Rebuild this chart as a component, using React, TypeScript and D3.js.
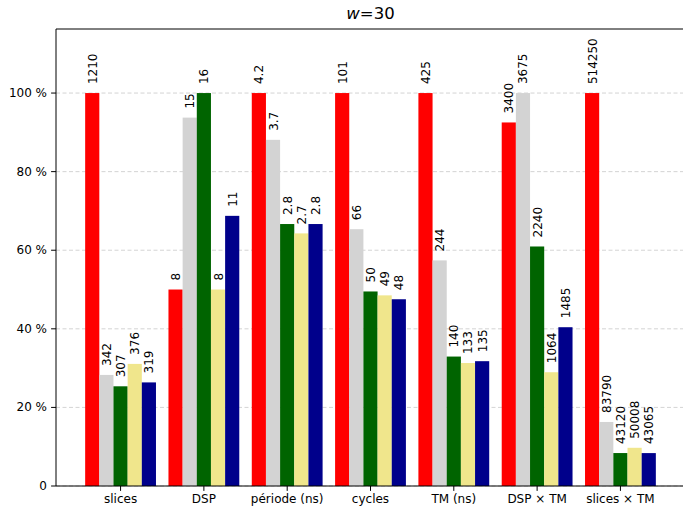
import React from "react";
import * as d3 from "d3";

const categories = ["slices", "DSP", "période (ns)", "cycles", "TM (ns)", "DSP × TM", "slices × TM"];
const seriesColors = ["#ff0000", "#d3d3d3", "#006400", "#f0e68c", "#00008b"];
const series0 = [1210, 8, 4.2, 101, 425, 3400, 514250];
const series1 = [342, 15, 3.7, 66, 244, 3675, 83790];
const series2 = [307, 16, 2.8, 50, 140, 2240, 43120];
const series3 = [376, 8, 2.7, 49, 133, 1064, 50008];
const series4 = [319, 11, 2.8, 48, 135, 1485, 43065];
const seriesList = [series0, series1, series2, series3, series4];
const yTicks = [0, 0.2, 0.4, 0.6, 0.8, 1.0];

const W = 683, H = 510;
const left = 56, right = 685, top = 29, bottom = 486;
const FONT = "DejaVu Sans, sans-serif";

export default function App() {
  const x = d3.scaleLinear().domain([-0.775, 6.775]).range([left, right]);
  const y = d3.scaleLinear().domain([0, 1.163]).range([bottom, top]);
  const bw = 0.17;
  const unit = x(1) - x(0);
  const maxes = categories.map((_, i) => d3.max(seriesList, (s) => s[i]) as number);

  return (
    <svg width={W} height={H} style={{ position: "absolute", left: 0, top: 0, background: "#fff" }} fontFamily={FONT}>
      <rect x={0} y={0} width={W} height={H} fill="#fff" />
      {yTicks.map((t) => (
        <line key={"g" + t} x1={left} x2={right} y1={y(t)} y2={y(t)} stroke="#b0b0b0" strokeOpacity={0.55} strokeDasharray="4,2.5" strokeWidth={1} />
      ))}
      {seriesList.map((s, si) =>
        s.map((v, ci) => {
          const frac = v / maxes[ci];
          const x0 = x(ci + (si - 2.5) * bw);
          const cx = x0 + (bw * unit) / 2;
          return (
            <g key={si + "-" + ci}>
              <rect x={x0} y={y(frac)} width={bw * unit} height={bottom - y(frac)} fill={seriesColors[si]} />
              <text
                transform={`translate(${cx + 0.5},${y(frac) - 9}) rotate(-90)`}
                fontSize={12}
                dominantBaseline="central"
                textAnchor="start"
                fill="#000"
              >
                {String(v)}
              </text>
            </g>
          );
        })
      )}
      <line x1={left} x2={left} y1={top} y2={bottom} stroke="#000" strokeWidth={1} />
      <line x1={left} x2={right} y1={bottom} y2={bottom} stroke="#000" strokeWidth={1} />
      <line x1={left} x2={right} y1={top} y2={top} stroke="#000" strokeWidth={1} />
      {yTicks.map((t) => (
        <g key={"t" + t}>
          <line x1={left - 4.9} x2={left} y1={y(t)} y2={y(t)} stroke="#000" />
          <text x={left - 9} y={y(t)} fontSize={12} textAnchor="end" dominantBaseline="central">
            {t === 0 ? "0" : `${Math.round(t * 100)} %`}
          </text>
        </g>
      ))}
      {categories.map((c, i) => (
        <g key={"c" + i}>
          <line x1={x(i)} x2={x(i)} y1={bottom} y2={bottom + 4.9} stroke="#000" />
          <text x={x(i)} y={bottom + 8} fontSize={12} textAnchor="middle" dominantBaseline="hanging">
            {c}
          </text>
        </g>
      ))}
      <text x={(left + right) / 2} y={top - 10} fontSize={16.5} textAnchor="middle">
        <tspan fontStyle="italic">w</tspan>=30
      </text>
    </svg>
  );
}
